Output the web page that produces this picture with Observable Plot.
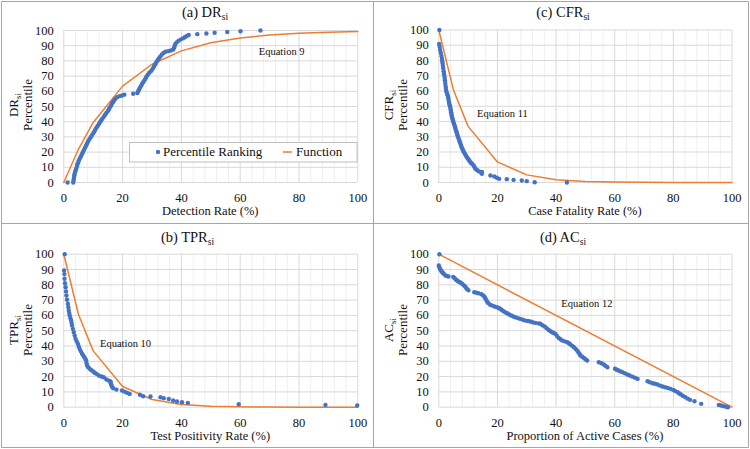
<!DOCTYPE html>
<html><head><meta charset="utf-8">
<script src="https://cdn.jsdelivr.net/npm/d3@7"></script>
<script src="https://cdn.jsdelivr.net/npm/@observablehq/plot@0.6"></script>
<style>
html,body{margin:0;padding:0;background:#fff;}
#wrap{position:relative;width:750px;height:449px;overflow:hidden;background:#fff;}
#wrap svg{position:absolute;}
#wrap text, #wrap tspan{font-family:'Liberation Serif', serif !important;}
</style></head><body><div id="wrap"></div>
<script>
// ---------- data ----------
const xTicks = [0, 20, 40, 60, 80, 100];
const yTicks = [0, 10, 20, 30, 40, 50, 60, 70, 80, 90, 100];
const xMinor = [4, 8, 12, 16, 24, 28, 32, 36, 44, 48, 52, 56, 64, 68, 72, 76, 84, 88, 92, 96];

// (a) Detection rate: percentile ranking [x %, percentile]
const drPoints = [[1.3,0],[3.2,0],[3.3,1.2],[3.4,2.4],[3.5,3.6],[3.6,4.8],[3.7,6],[3.9,7.2],[4.1,8.4],[4.3,9.6],[4.5,10.8],[4.6,12],[4.9,13.2],[5.1,14.4],[5.4,15.6],[5.7,16.8],[6.0,18],[6.3,19.2],[6.6,20.4],[6.9,21.6],[7.2,22.8],[7.5,24],[7.8,25.2],[8.1,26.4],[8.4,27.6],[8.8,28.8],[9.2,30],[9.6,31.2],[10.0,32.4],[10.4,33.6],[10.7,34.8],[11.1,36],[11.5,37.2],[11.9,38.4],[12.3,39.6],[12.7,40.8],[13.1,42],[13.6,43.2],[14.0,44.4],[14.4,45.6],[14.9,46.8],[15.3,48],[15.6,49.2],[16.0,50.4],[16.3,51.6],[16.7,52.8],[17.1,54],[17.6,55.2],[18.2,56.2],[19.0,56.8],[19.8,57.2],[20.6,57.8],[23.6,58.4],[25.0,58.9],[25.3,60],[25.6,61.2],[25.9,62.4],[26.3,63.6],[26.6,64.8],[27.0,66],[27.4,67.2],[27.8,68.4],[28.1,69.6],[28.5,70.8],[29.0,72],[29.6,73.2],[30.1,74.4],[30.5,75.6],[30.8,76.8],[31.2,78],[31.5,79.2],[31.9,80.4],[32.3,81.6],[32.8,82.8],[33.3,84],[33.9,85.2],[34.6,86],[35.5,86.4],[36.4,86.8],[37.2,87.4],[37.5,88.6],[37.7,89.8],[37.9,91],[38.4,92.2],[39.0,93.2],[39.7,94],[40.5,94.8],[41.2,95.6],[41.8,96.4],[42.5,97],[45.4,97.6],[48.5,98],[51.3,98.5],[55.6,99],[60.1,99.5],[66.9,100]];
// (b) Test positivity rate
const tprPoints = [[0.3,100],[0.1,89.3],[0.2,87],[0.25,84],[0.4,81],[0.6,78.4],[0.75,75.7],[0.9,73],[1.1,70.2],[1.4,67.5],[1.55,65.3],[1.7,63.2],[1.85,61.5],[2.0,59.9],[2.25,58.2],[2.5,56.6],[2.65,55],[2.8,53.4],[3.1,51.2],[3.4,49],[3.7,46.8],[4.0,44.7],[4.4,43],[4.8,41.4],[5.1,39.7],[5.4,38.1],[5.8,36.5],[6.2,34.9],[6.6,33.8],[7.0,32.7],[7.3,31.6],[7.6,30.5],[7.75,28.8],[7.9,27.2],[8.3,26.1],[8.8,25.1],[9.4,24.2],[10.0,23.3],[10.5,22.5],[11.1,21.8],[11.9,20.7],[12.8,20.1],[13.6,19.6],[14.5,18.1],[15.3,17.4],[15.9,16.8],[16.0,15.7],[16.1,14.6],[16.4,13.5],[16.8,12.4],[17.9,11.5],[19.8,10.9],[20.6,10.2],[21.5,9.4],[22.4,8.7],[25.9,8.1],[27,7.2],[29.5,7],[32.9,6.5],[34,5.9],[35.7,5.4],[37.2,4.4],[38.5,3.7],[40.2,3.3],[42.2,2.8],[59.5,2.0],[89,1.5],[99.8,1.1]];
// (c) Case fatality rate
const cfrPoints = [[0.2,100],[0.1,90.8],[0.3,89],[0.45,87],[0.7,85],[0.9,83],[1.1,81],[1.2,79.5],[1.3,78],[1.4,76.5],[1.5,75],[1.65,73],[1.75,71.5],[1.9,70],[2.0,68.5],[2.1,67],[2.2,65.2],[2.3,63.5],[2.4,62],[2.5,60.3],[2.7,59],[2.9,58],[3.05,57],[3.2,55.9],[3.3,54.7],[3.4,53.5],[3.5,52.5],[3.6,51.5],[3.75,50.5],[3.9,49.5],[4.0,48.3],[4.1,47.2],[4.2,46.1],[4.3,45],[4.4,43.9],[4.5,42.8],[4.7,41.7],[4.85,40.6],[5.0,39.5],[5.2,38.4],[5.4,37.3],[5.55,36.2],[5.7,35.1],[5.9,34],[6.1,33],[6.25,32],[6.4,30.8],[6.6,29.7],[6.8,28.6],[7.0,27.5],[7.2,26.4],[7.4,25.3],[7.6,24.1],[7.85,23],[8.05,22],[8.3,21],[8.6,19.9],[8.9,18.8],[9.25,17.7],[9.6,16.6],[9.9,15.8],[10.2,15],[10.5,14.1],[10.8,13.3],[11.1,12.7],[11.4,12.2],[11.9,11.1],[12.2,10],[12.5,9],[13.0,8.2],[13.6,7.4],[14.4,6.6],[14.7,7],[14.7,5.7],[17.6,4.6],[18.9,3.9],[19.8,3.1],[20.6,2.4],[23.2,2.2],[25.5,1.7],[28.3,1.3],[30,0.9],[32.7,0.2],[43.7,0]];
// (d) Proportion of active cases
const acPoints = [[0.2,100],[0,92.6],[0.2,91.5],[0.4,90.4],[0.7,89.6],[0.9,88.9],[1.2,88.2],[1.5,87.6],[1.9,86.8],[2.3,86.1],[2.8,85.7],[3.3,85.4],[4.9,85.2],[5.3,84.4],[5.7,83.6],[6.1,83],[6.5,82.4],[7.0,81.8],[7.5,81.3],[8.0,80.5],[8.5,79.8],[8.9,79],[9.2,78.2],[9.6,77.3],[10.1,76.4],[12.1,75.2],[12.8,74.8],[13.5,74.5],[14.5,73.8],[15.2,73],[15.6,72],[15.9,71],[16.2,70],[16.5,69],[16.9,68],[17.5,67],[18.2,66.4],[19,65.8],[19.8,65.4],[20.4,64.8],[20.9,64.3],[21.5,63.5],[22.1,62.7],[22.7,62],[23.3,61.4],[24,60.6],[24.7,59.9],[25.4,59.3],[26.1,58.8],[27,58.2],[27.8,57.7],[28.7,57.2],[29.5,56.6],[30.4,56.3],[31.2,56],[32,55.5],[32.9,55.1],[34,54.8],[34.6,54.5],[35.3,53.6],[36.1,52.7],[36.8,51.6],[37.5,50.5],[38.1,49.7],[38.6,49],[39.2,48.5],[39.8,47.9],[40.3,46.6],[40.9,45.3],[41.5,44.4],[42.1,43.6],[43,43],[43.8,42.5],[44.4,41.8],[44.9,41],[45.5,40.1],[46.1,39.2],[46.7,38.1],[47.2,37],[47.6,35.9],[48,34.8],[48.3,33.8],[48.9,33],[49.5,32.2],[50,31.3],[50.6,30.5],[54.6,29.4],[55.5,28.7],[56.3,27.9],[56.9,27],[57.5,26.1],[60.1,25.1],[60.7,24.5],[61.3,24],[62,23.4],[62.6,22.9],[63.4,22.2],[64.3,21.4],[65.1,20.7],[66,20],[66.9,19.3],[67.8,18.5],[71.2,17],[72,16.3],[72.9,15.7],[73.7,15.3],[74.6,14.8],[75.5,14.1],[76.3,13.5],[77.2,13],[78.1,12.6],[79,12],[80,11.3],[80.7,10.5],[81.5,9.8],[82,9],[82.6,8.3],[83.3,7.4],[84.1,6.5],[84.9,5.6],[85.7,4.8],[87.2,3.9],[89.5,2.2],[95.5,1.5],[96.3,1.1],[97.1,0.7],[98,0.3],[98.6,0]];

// Function curves
const fnX = [0, 5, 10, 20, 30, 40, 50, 60, 70, 80, 90, 100];
const drFnY = [0, 22, 39.5, 63.4, 77.8, 86.6, 91.9, 95.1, 97, 98.2, 98.9, 99.3];
const tprFnY = [100, 60.6, 36.8, 13.5, 5, 1.8, 0.7, 0.25, 0.1, 0.03, 0.01, 0];
const cfrFnY = [100, 60.6, 36.8, 13.5, 5, 1.8, 0.7, 0.25, 0.1, 0.03, 0.01, 0];
const acFnX = [0, 100];
const acFnY = [100, 0];

// Text
const titles = {a: ["(a) DR", "si"], b: ["(b) TPR", "si"], c: ["(c) CFR", "si"], d: ["(d) AC", "si"]};
const xLabels = {a: "Detection Rate (%)", b: "Test Positivity Rate (%)", c: "Case Fatality Rate (%)", d: "Proportion of Active Cases (%)"};
const yLabelTop = {a: ["DR", "si"], b: ["TPR", "si"], c: ["CFR", "si"], d: ["AC", "si"]};
const eqText = {a: "Equation 9", b: "Equation 10", c: "Equation 11", d: "Equation 12"};
const eqAt = {a: [74.1, 86.2], b: [21, 41.4], c: [21.7, 45.2], d: [50.5, 67.6]};
const legendLabels = ["Percentile Ranking", "Function"];

// ---------- rendering ----------
const FONT = "Liberation Serif";
const BLUE = "#4472C4", ORANGE = "#ED7D31";
const wrap = document.getElementById("wrap");

const layout = {
  a: {left: 2, top: 2, w: 371, h: 221, x0: 63.3, x1: 357.3, y0: 30, y1: 182, title: [205, 16.5], ylab: [13, 27, 105]},
  c: {left: 374, top: 2, w: 374, h: 221, x0: 438.3, x1: 731.5, y0: 29.5, y1: 182, title: [563, 16.5], ylab: [388, 402, 105]},
  b: {left: 2, top: 224, w: 371, h: 223, x0: 63.3, x1: 357.3, y0: 253.7, y1: 406.7, title: [187.5, 241.5], ylab: [13, 27, 330]},
  d: {left: 374, top: 224, w: 374, h: 223, x0: 438.3, x1: 731.5, y0: 253.7, y1: 406.7, title: [563, 241.5], ylab: [388, 402, 330]}
};
const series = {
  a: {pts: drPoints, fx: fnX, fy: drFnY},
  b: {pts: tprPoints, fx: fnX, fy: tprFnY},
  c: {pts: cfrPoints, fx: fnX, fy: cfrFnY},
  d: {pts: acPoints, fx: acFnX, fy: acFnY}
};

for (const k of ["a", "b", "c", "d"]) {
  const L = layout[k], S = series[k];
  const pts = S.pts.map(([x, y]) => ({x, y}));
  const fn = S.fx.map((x, i) => ({x, y: S.fy[i]}));
  const svg = Plot.plot({
    width: L.w, height: L.h,
    marginLeft: L.x0 - L.left, marginRight: L.left + L.w - L.x1,
    marginTop: L.y0 - L.top, marginBottom: L.top + L.h - L.y1,
    x: {domain: [0, 100]}, y: {domain: [0, 100]},
    style: {fontSize: "12.5px", background: "transparent", color: "#111", overflow: "visible"},
    marks: [
      Plot.ruleX(xMinor, {stroke: "#efefef", strokeWidth: 1}),
      Plot.ruleX(xTicks, {stroke: "#d9d9d9", strokeWidth: 1}),
      Plot.ruleY(yTicks, {stroke: "#d9d9d9", strokeWidth: 1}),
      Plot.axisX({ticks: xTicks, tickSize: 0, tickPadding: 11, label: null, fontSize: 12.5, fontFamily: FONT, tickFormat: d => String(d)}),
      Plot.axisY({ticks: yTicks, tickSize: 0, tickPadding: 10, label: null, fontSize: 12.5, fontFamily: FONT, tickFormat: d => String(d)}),
      Plot.line(fn, {x: "x", y: "y", stroke: ORANGE, strokeWidth: 1.5}),
      Plot.dot(pts, {x: "x", y: "y", r: 2.2, fill: BLUE}),
      Plot.text([eqText[k]], {x: eqAt[k][0], y: eqAt[k][1], text: d => d, fontSize: 10.5, fontFamily: FONT, fill: "#111", textAnchor: "middle"})
    ]
  });
  svg.style.left = L.left + "px";
  svg.style.top = L.top + "px";
  wrap.appendChild(svg);
}

// overlay: frame, titles, axis titles, legend
const ov = d3.select(wrap).append("svg").attr("width", 750).attr("height", 449)
  .style("left", "0px").style("top", "0px").attr("font-family", FONT);
const frame = "#a6a6a6";
[[1.5, 1.5, 1.5, 447.5], [373.5, 1.5, 373.5, 447.5], [748.5, 1.5, 748.5, 447.5],
 [1.5, 1.5, 748.5, 1.5], [1.5, 223.5, 748.5, 223.5], [1.5, 447.5, 748.5, 447.5]]
  .forEach(([x1, y1, x2, y2]) => ov.append("line").attr("x1", x1).attr("y1", y1).attr("x2", x2).attr("y2", y2).attr("stroke", frame).attr("stroke-width", 1));

for (const k of ["a", "b", "c", "d"]) {
  const L = layout[k];
  const t = ov.append("text").attr("x", L.title[0]).attr("y", L.title[1]).attr("text-anchor", "middle")
    .attr("font-family", FONT).attr("font-size", 14.5).attr("fill", "#111");
  t.append("tspan").text(titles[k][0]);
  t.append("tspan").attr("font-size", 9.5).attr("dy", 3).text(titles[k][1]);
  ov.append("text").attr("x", (L.x0 + L.x1) / 2).attr("y", L.y1 + 33).attr("text-anchor", "middle")
    .attr("font-family", FONT).attr("font-size", 12.5).attr("fill", "#111").text(xLabels[k]);
  const y1 = ov.append("text").attr("transform", `translate(${L.ylab[0]},${L.ylab[2]}) rotate(-90)`)
    .attr("text-anchor", "middle").attr("dy", "0.35em").attr("font-family", FONT).attr("font-size", 13).attr("fill", "#111");
  y1.append("tspan").text(yLabelTop[k][0]);
  y1.append("tspan").attr("font-size", 9).attr("dy", 3).text(yLabelTop[k][1]);
  ov.append("text").attr("transform", `translate(${L.ylab[1]},${L.ylab[2]}) rotate(-90)`)
    .attr("text-anchor", "middle").attr("dy", "0.35em").attr("font-family", FONT).attr("font-size", 13).attr("fill", "#111").text("Percentile");
}

// legend (panel a)
const lg = ov.append("g");
lg.append("rect").attr("x", 129.5).attr("y", 142.5).attr("width", 227.5).attr("height", 19.5)
  .attr("fill", "#fff").attr("stroke", "#bfbfbf");
lg.append("circle").attr("cx", 158).attr("cy", 152).attr("r", 2.2).attr("fill", BLUE);
lg.append("text").attr("x", 163).attr("y", 156).attr("font-family", FONT).attr("font-size", 13).attr("fill", "#111").text(legendLabels[0]);
lg.append("line").attr("x1", 283).attr("x2", 292).attr("y1", 152).attr("y2", 152).attr("stroke", ORANGE).attr("stroke-width", 1.5);
lg.append("text").attr("x", 296).attr("y", 156).attr("font-family", FONT).attr("font-size", 13).attr("fill", "#111").text(legendLabels[1]);
</script></body></html>
